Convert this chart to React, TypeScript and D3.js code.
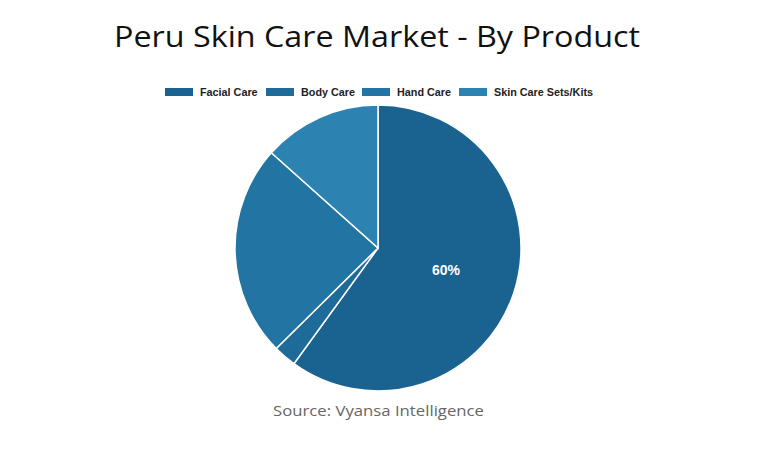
import React from "react";
import * as d3 from "d3";

const categories = ["Facial Care", "Body Care", "Hand Care", "Skin Care Sets/Kits"];
const values = [60, 2.6, 24, 13.4];
const colors = ["#1a6390", "#1e6b99", "#2274a3", "#2c82b0"];
const labels = ["60%", "", "", ""];

export default function App() {
  const W = 757, H = 454;
  const cx = 378, cy = 248, r = 143;
  const pie = d3.pie<number>().sort(null).value((d) => d);
  const arcs = pie(values);
  const arc = d3.arc<d3.PieArcDatum<number>>().innerRadius(0).outerRadius(r);
  const labelArc = d3.arc<d3.PieArcDatum<number>>().innerRadius(r * 0.5).outerRadius(r * 0.5);
  const legendX = [165, 266, 362, 459];
  return (
    <svg width={W} height={H} style={{ position: "absolute", left: 0, top: 0, background: "#fff" }}>
      <text x={114} y={47} textLength={526} lengthAdjust="spacingAndGlyphs" fontFamily="'Open Sans', sans-serif" fontSize={30} fill="#111">
        Peru Skin Care Market - By Product
      </text>
      {categories.map((c, i) => (
        <g key={c}>
          <rect x={legendX[i]} y={88} width={28} height={8} fill={colors[i]} />
          <text x={legendX[i] + 35} y={96} fontFamily="'Liberation Sans', Arial, sans-serif" fontWeight="bold" fontSize={10.8} fill="#222">
            {c}
          </text>
        </g>
      ))}
      <g transform={`translate(${cx},${cy})`}>
        {arcs.map((a, i) => (
          <path key={i} d={arc(a) || ""} fill={colors[i]} stroke="#fff" strokeWidth={1.5} />
        ))}
        {arcs.map((a, i) => {
          if (!labels[i]) return null;
          const [x, y] = labelArc.centroid(a);
          return (
            <text key={"l" + i} x={x} y={y} textAnchor="middle" dominantBaseline="central" fill="#fff" fontFamily="'Liberation Sans', Arial, sans-serif" fontWeight="bold" fontSize={14}>
              {labels[i]}
            </text>
          );
        })}
      </g>
      <text x={273} y={416} textLength={211} lengthAdjust="spacingAndGlyphs" fontFamily="'Open Sans', sans-serif" fontSize={15} fill="#666">
        Source: Vyansa Intelligence
      </text>
    </svg>
  );
}
